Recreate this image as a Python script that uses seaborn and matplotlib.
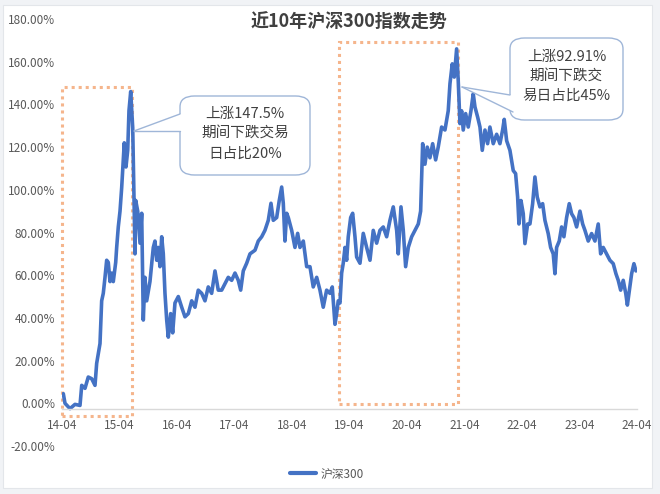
import numpy as np
import pandas as pd
import matplotlib
matplotlib.use("Agg")
import matplotlib.pyplot as plt
import matplotlib.dates as mdates
import matplotlib.ticker as mticker
from matplotlib.patches import Rectangle, FancyBboxPatch, Polygon
from matplotlib.lines import Line2D
import seaborn as sns

# ---------------- data ----------------
title = "近10年沪深300指数走势"
series_name = "沪深300"
start_date = "2014-04-01"
# time in years after 2014-04-01
years = [0.023, 0.052, 0.139, 0.226, 0.313, 0.343, 0.400, 0.457, 0.517, 0.574,
         0.603, 0.661, 0.690, 0.718, 0.748, 0.777, 0.805, 0.835, 0.864, 0.892,
         0.934, 0.951, 0.979, 1.009, 1.038, 1.066, 1.083, 1.113, 1.143, 1.165,
         1.195, 1.230, 1.252, 1.270, 1.282, 1.317, 1.357, 1.386, 1.414, 1.443,
         1.473, 1.530, 1.588, 1.617, 1.647, 1.675, 1.704, 1.734, 1.762, 1.791,
         1.821, 1.849, 1.890, 1.925, 1.965, 2.023, 2.082, 2.139, 2.197, 2.256,
         2.313, 2.370, 2.430, 2.487, 2.544, 2.603, 2.661, 2.718, 2.777, 2.835,
         2.892, 2.951, 3.009, 3.066, 3.108, 3.153, 3.212, 3.270, 3.357, 3.414,
         3.473, 3.530, 3.588, 3.635, 3.675, 3.734, 3.779, 3.821, 3.849, 3.878,
         3.908, 3.936, 3.995, 4.052, 4.099, 4.139, 4.197, 4.256, 4.313, 4.370,
         4.430, 4.487, 4.544, 4.603, 4.661, 4.701, 4.748, 4.777, 4.805, 4.835,
         4.864, 4.892, 4.922, 4.951, 4.979, 5.021, 5.056, 5.096, 5.125, 5.183,
         5.240, 5.299, 5.357, 5.414, 5.473, 5.530, 5.588, 5.647, 5.704, 5.762,
         5.821, 5.849, 5.896, 5.936, 5.977, 6.023, 6.082, 6.139, 6.197, 6.238,
         6.273, 6.313, 6.353, 6.400, 6.447, 6.499, 6.544, 6.603, 6.661, 6.718,
         6.748, 6.788, 6.823, 6.864, 6.892, 6.922, 6.951, 6.979, 7.021, 7.066,
         7.113, 7.153, 7.183, 7.230, 7.270, 7.310, 7.357, 7.403, 7.443, 7.501,
         7.560, 7.617, 7.664, 7.692, 7.734, 7.791, 7.849, 7.890, 7.925, 7.948,
         7.983, 8.023, 8.052, 8.099, 8.139, 8.186, 8.226, 8.266, 8.313, 8.360,
         8.400, 8.457, 8.499, 8.544, 8.574, 8.603, 8.649, 8.690, 8.730, 8.777,
         8.823, 8.864, 8.904, 8.951, 9.009, 9.056, 9.096, 9.153, 9.212, 9.270,
         9.327, 9.369, 9.414, 9.473, 9.530, 9.588, 9.635, 9.675, 9.717, 9.762,
         9.806, 9.834, 9.870, 9.908, 9.948, 9.983]
# cumulative change, %
values = [4.5, 0.0, -2.5, -0.5, -1.0, 8.4, 7.0, 12.3, 11.5, 8.4,
          18.7, 28.0, 48.0, 51.5, 59.0, 67.0, 66.0, 57.0, 61.0, 57.0,
          66.0, 73.0, 82.6, 90.0, 101.0, 114.0, 122.0, 110.7, 118.5, 137.0,
          146.0, 129.0, 98.0, 70.0, 95.0, 90.0, 75.0, 89.0, 39.0, 59.0,
          48.0, 57.0, 73.0, 76.0, 67.0, 73.0, 64.0, 78.0, 70.0, 51.5,
          39.0, 31.0, 42.0, 33.0, 47.0, 50.0, 45.0, 40.5, 42.0, 48.0,
          45.0, 53.0, 51.5, 48.0, 54.5, 51.5, 62.0, 53.0, 53.0, 56.0,
          59.0, 57.6, 61.0, 57.6, 53.0, 62.0, 65.6, 70.0, 71.7, 76.0,
          78.0, 81.0, 85.7, 93.7, 85.7, 87.0, 95.0, 101.3, 93.7, 76.0,
          89.0, 87.0, 81.0, 73.0, 79.6, 73.0, 76.0, 64.0, 64.0, 54.5,
          59.0, 53.0, 45.0, 53.0, 51.5, 54.5, 37.0, 42.0, 48.0, 47.0,
          61.0, 65.6, 73.0, 67.0, 78.0, 87.0, 89.0, 78.0, 68.5, 65.6,
          79.6, 73.0, 67.0, 81.0, 75.0, 81.0, 82.6, 78.0, 85.7, 92.0,
          81.0, 70.0, 92.0, 81.0, 64.0, 73.0, 78.0, 81.0, 84.0, 90.0,
          121.6, 112.0, 120.0, 115.0, 121.6, 114.0, 120.0, 129.4, 128.0, 137.0,
          149.7, 159.0, 152.8, 166.0, 151.0, 131.0, 137.0, 128.0, 135.7, 129.4,
          137.0, 145.0, 138.8, 134.0, 129.4, 118.5, 128.0, 121.6, 129.4, 121.6,
          126.0, 121.6, 128.0, 133.0, 123.0, 118.5, 109.0, 107.6, 96.6, 84.0,
          95.0, 88.8, 74.8, 84.0, 84.0, 93.5, 106.0, 96.6, 92.0, 93.5,
          85.7, 79.5, 73.0, 70.0, 60.7, 73.0, 76.0, 82.6, 78.0, 87.0,
          93.5, 88.8, 87.0, 82.6, 90.0, 84.0, 81.0, 76.0, 79.5, 76.0,
          84.0, 70.0, 73.0, 70.0, 67.0, 65.4, 60.7, 57.6, 53.0, 57.6,
          51.4, 46.0, 53.0, 60.7, 65.4, 62.0]

# highlighted periods (years after start) and callout texts
box1_years = (0.0, 1.21)
box1_range = (-6.0, 148.0)
box2_years = (4.82, 6.88)
box2_range = (-0.5, 169.0)
callout1_lines = ["上涨147.5%", "期间下跌交易", "日占比20%"]
callout2_lines = ["上涨92.91%", "期间下跌交", "易日占比45%"]

y_ticks = [-20, 0, 20, 40, 60, 80, 100, 120, 140, 160, 180]
x_tick_years = list(range(2014, 2025))

# ---------------- build frame ----------------
t0 = pd.Timestamp(start_date)
def to_date(y):
    return t0 + pd.to_timedelta(np.asarray(y) * 365.25, unit="D")

df = pd.DataFrame({"date": to_date(years), "value": values, "series": series_name})

# ---------------- style ----------------
sns.set_theme(style="white")
plt.rcParams["font.family"] = ["Noto Sans CJK SC", "DejaVu Sans"]
plt.rcParams["axes.unicode_minus"] = False

W, H = 660, 494
fig = plt.figure(figsize=(W / 100, H / 100), dpi=100)
fig.patch.set_facecolor("#F1F3F6")
# white chart panel
fig.patches.append(Rectangle((3 / W, 1 - 488 / H), (652 - 3) / W, (488 - 5) / H,
                             transform=fig.transFigure, facecolor="white",
                             edgecolor="#E3E6EA", linewidth=0.8, zorder=-10))

ax = fig.add_axes([62 / W, 1 - 446 / H, (637 - 62) / W, (446 - 19) / H])
ax.set_facecolor("none")
ax.set_zorder(1)

blue = "#4472C4"
sns.lineplot(data=df, x="date", y="value", hue="series", palette=[blue],
             linewidth=2.6, ax=ax, legend=True)

ax.set_ylim(-20, 180)
ax.set_xlim(mdates.date2num(pd.Timestamp("2014-04-01")),
            mdates.date2num(pd.Timestamp("2024-04-01")))
ax.set_yticks(y_ticks)
ax.yaxis.set_major_formatter(mticker.FuncFormatter(lambda v, p: f"{v:.2f}%"))
ax.set_xticks([mdates.date2num(pd.Timestamp(f"{y}-04-01")) for y in x_tick_years])
ax.xaxis.set_major_formatter(mdates.DateFormatter("%y-%m"))
ax.set_xlabel("")
ax.set_ylabel("")

for s in ["left", "top", "right"]:
    ax.spines[s].set_visible(False)
ax.spines["bottom"].set_position(("data", -2.8))
ax.spines["bottom"].set_color("#D9D9D9")
ax.spines["bottom"].set_linewidth(1.0)
ax.tick_params(axis="x", direction="out", length=4, width=1.0, color="#D9D9D9",
               labelsize=8.5, labelcolor="#595959", pad=3)
ax.tick_params(axis="y", length=0, labelsize=8.5, labelcolor="#595959", pad=5)
ax.grid(False)

# dotted highlight boxes
box_color = "#F5B58C"
for (ya, yb), (lo, hi) in [(box1_years, box1_range), (box2_years, box2_range)]:
    xa = mdates.date2num(to_date(ya))
    xb = mdates.date2num(to_date(yb))
    ax.add_patch(Rectangle((xa, lo), xb - xa, hi - lo, fill=False,
                           edgecolor=box_color, linewidth=2.2,
                           linestyle=(0, (1, 1.3)), zorder=1, clip_on=False))

# callouts (figure pixel layout)
def px(x, y):
    return (x / W, 1 - y / H)

edge = "#9FB6D8"
def callout(x0, y0, x1, y1, tip, base_a, base_b, lines, ty):
    bx, by = px(x0, y1)
    box = FancyBboxPatch((bx, by), (x1 - x0) / W, (y1 - y0) / H,
                         boxstyle="round,pad=0,rounding_size=0.022",
                         transform=fig.transFigure, facecolor="white",
                         edgecolor=edge, linewidth=1.0, zorder=5)
    fig.patches.append(box)
    poly = Polygon([px(*tip), px(*base_a), px(base_a[0] + 3, base_a[1]),
                    px(base_b[0] + 3, base_b[1]), px(*base_b)],
                   closed=True, transform=fig.transFigure, facecolor="white",
                   edgecolor="none", zorder=6)
    fig.patches.append(poly)
    for b in (base_a, base_b):
        (xa, ya), (xb, yb) = px(*tip), px(*b)
        fig.lines.append(Line2D([xa, xb], [ya, yb], transform=fig.transFigure,
                                color=edge, linewidth=1.0, zorder=7))
    cx = (x0 + x1) / 2
    for i, s in enumerate(lines):
        fig.text(*px(cx, ty[i]), s, ha="center", va="center", fontsize=10.5,
                 color="#404040", zorder=8)

callout(180, 96, 310, 175, (134, 131), (180, 114), (180, 131), callout1_lines,
        [114, 134, 154])
callout(510, 38, 623, 120, (462, 87), (510, 95), (513, 112), callout2_lines,
        [57, 77, 96])

# title
fig.text(*px(349, 22), title, ha="center", va="center", fontsize=13,
         fontweight="bold", color="#404040")

# legend
leg = ax.legend(loc="center", bbox_to_anchor=px(327, 474),
                bbox_transform=fig.transFigure, frameon=False, fontsize=8.5,
                handlelength=2.2, handletextpad=0.4)
for t in leg.get_texts():
    t.set_color("#595959")
for l in leg.get_lines():
    l.set_linewidth(3)

fig.savefig("out.png", dpi=100, facecolor=fig.get_facecolor())
